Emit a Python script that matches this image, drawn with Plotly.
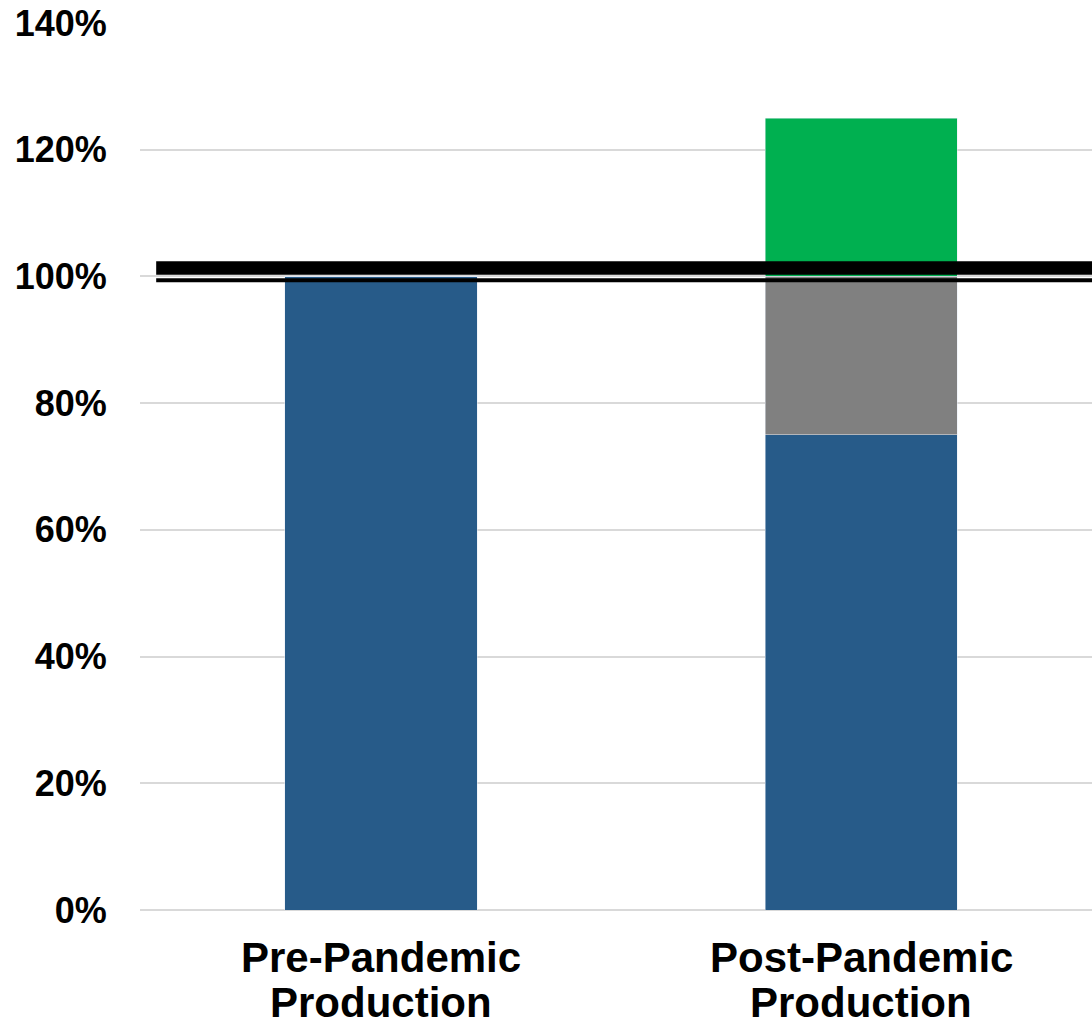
import plotly.graph_objects as go

# Production relative to pre-pandemic capacity (percent)
categories = ["Pre-Pandemic Production", "Post-Pandemic Production"]
label_lines = [["Pre-Pandemic", "Production"], ["Post-Pandemic", "Production"]]
base_output = [100, 75]
lost_output = [0, 25]
added_output = [0, 25]
capacity_level = 100

tick_vals = [0, 20, 40, 60, 80, 100, 120, 140]
tick_text = [f"{v}%" for v in tick_vals]

FONT = "Liberation Sans, Arial, sans-serif"

fig = go.Figure()
fig.add_bar(x=categories, y=base_output, marker_color="#275B89", width=0.4)
fig.add_bar(x=categories, y=lost_output, marker_color="#808080", width=0.4)
fig.add_bar(x=categories, y=added_output, marker_color="#00B050", width=0.4)

# Double rule marking full capacity: a heavy band above, a thin line below
fig.add_shape(type="rect", xref="paper", yref="y", x0=0.017, x1=1,
              y0=capacity_level + 0.25, y1=capacity_level + 2.4,
              fillcolor="black", line_width=0, layer="above")
fig.add_shape(type="rect", xref="paper", yref="y", x0=0.017, x1=1,
              y0=capacity_level - 0.9, y1=capacity_level - 0.3,
              fillcolor="black", line_width=0, layer="above")

# Category labels, two tightly spaced lines under each bar
for cat, lines in zip(categories, label_lines):
    for i, line in enumerate(lines):
        fig.add_annotation(x=cat, y=0, xref="x", yref="y", text=line,
                           showarrow=False, yanchor="top", borderpad=0,
                           yshift=-23 - 45 * i,
                           font=dict(size=42, family=FONT, weight="bold", color="black"))

fig.update_layout(
    barmode="stack",
    showlegend=False,
    width=1092, height=1025,
    margin=dict(l=140, r=0, t=23, b=115),
    plot_bgcolor="white", paper_bgcolor="white",
    font=dict(family=FONT, color="black"),
)
fig.update_xaxes(range=[-0.502, 1.481], showgrid=False, showline=False,
                 ticks="", showticklabels=False)
fig.update_yaxes(range=[0, 140], tickvals=tick_vals, ticktext=tick_text,
                 showgrid=True, gridcolor="#D9D9D9", gridwidth=2,
                 zeroline=True, zerolinecolor="#D9D9D9", zerolinewidth=2,
                 showline=False, ticks="outside", ticklen=25, tickcolor="white",
                 tickfont=dict(size=36, family=FONT, weight="bold"))

fig.write_html("out.html")
